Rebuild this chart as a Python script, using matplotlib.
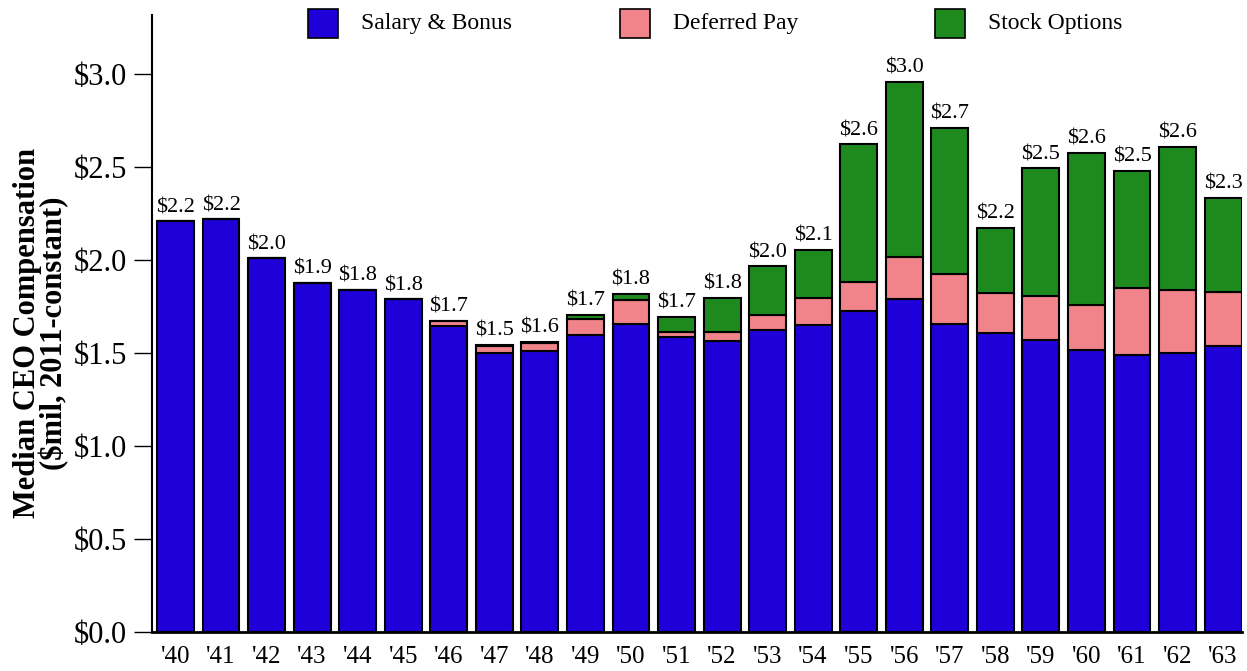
import matplotlib
matplotlib.use("Agg")
import matplotlib.pyplot as plt
import numpy as np
from matplotlib.patches import Rectangle

years = ["'40", "'41", "'42", "'43", "'44", "'45", "'46", "'47", "'48", "'49", "'50", "'51",
         "'52", "'53", "'54", "'55", "'56", "'57", "'58", "'59", "'60", "'61", "'62", "'63"]
salary = [2.21, 2.22, 2.01, 1.88, 1.84, 1.79, 1.645, 1.50, 1.51, 1.60, 1.66, 1.585,
          1.567, 1.626, 1.65, 1.725, 1.79, 1.657, 1.61, 1.57, 1.52, 1.49, 1.50, 1.54]
deferred = [0.0, 0.0, 0.0, 0.0, 0.0, 0.0, 0.03, 0.04, 0.045, 0.085, 0.125, 0.027,
            0.05, 0.081, 0.15, 0.16, 0.23, 0.27, 0.215, 0.24, 0.237, 0.36, 0.34, 0.287]
options = [0.0, 0.0, 0.0, 0.0, 0.0, 0.0, 0.0, 0.005, 0.005, 0.02, 0.035, 0.083,
           0.183, 0.26, 0.257, 0.74, 0.94, 0.785, 0.35, 0.685, 0.82, 0.63, 0.77, 0.51]
total_labels = ["$2.2", "$2.2", "$2.0", "$1.9", "$1.8", "$1.8", "$1.7", "$1.5", "$1.6",
                "$1.7", "$1.8", "$1.7", "$1.8", "$2.0", "$2.1", "$2.6", "$3.0", "$2.7",
                "$2.2", "$2.5", "$2.6", "$2.5", "$2.6", "$2.3"]
series_names = ["Salary & Bonus", "Deferred Pay", "Stock Options"]
yticks = [0, 0.5, 1.0, 1.5, 2.0, 2.5, 3.0]

BLUE = "#2000d8"
PINK = "#f0848a"
GREEN = "#1e8a1e"

plt.rcParams["font.family"] = ["Liberation Serif", "DejaVu Serif"]

W, H = 1247, 671
fig = plt.figure(figsize=(W / 100, H / 100), dpi=100, facecolor="white")
ax = fig.add_axes([0.1219, 0.0581, 0.996 - 0.1219, 0.9776 - 0.0581])

x = np.arange(len(years))
sal = np.array(salary)
dfr = np.array(deferred)
opt = np.array(options)
w = 0.81
kw = dict(width=w, edgecolor="black", linewidth=1.5)
ax.bar(x, sal, color=BLUE, **kw)
ax.bar(x, dfr, bottom=sal, color=PINK, **kw)
ax.bar(x, opt, bottom=sal + dfr, color=GREEN, **kw)

tops = sal + dfr + opt
for xi, t, lab in zip(x, tops, total_labels):
    ax.annotate(lab, (xi, t), xytext=(0, 3), textcoords="offset points",
                ha="center", va="bottom", fontsize=16)

ax.set_xlim(-0.515, len(years) - 1 + w / 2 + 0.01)
ax.set_ylim(0, 3.32)
ax.set_xticks(x)
ax.set_xticklabels(years, fontsize=18)
ax.tick_params(axis="x", length=0, pad=10)
ax.set_yticks(yticks)
ax.set_yticklabels([f"${v:.1f}" for v in yticks], fontsize=22)
ax.tick_params(axis="y", length=13, width=1, pad=5)
for s in ("top", "right"):
    ax.spines[s].set_visible(False)
ax.spines["left"].set_linewidth(1.5)
ax.spines["bottom"].set_linewidth(2)

# y label sits a little below the axes centre in the original
fig.text(0.033, 0.504, "Median CEO Compensation\n($mil, 2011-constant)", fontsize=22,
         fontweight="bold", linespacing=0.85, rotation=90, ha="center", va="center")

# legend row along the top, laid out by hand to match the spacing of the original
for name, color, px in zip(series_names, [BLUE, PINK, GREEN], [308, 620, 935]):
    fig.add_artist(Rectangle((px / W, 1 - 38 / H), 30 / W, 29 / H, transform=fig.transFigure,
                             facecolor=color, edgecolor="black", lw=1.2))
    fig.text((px + 53) / W, 1 - 23 / H, name, fontsize=17, ha="left", va="center")

fig.savefig("out.png", dpi=100, facecolor="white")
